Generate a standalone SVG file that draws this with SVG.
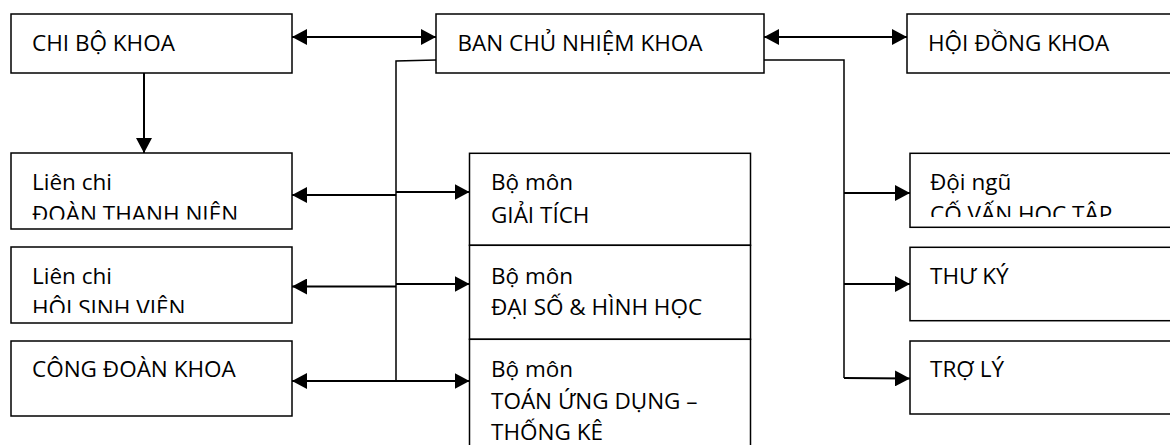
<svg xmlns="http://www.w3.org/2000/svg" width="1170" height="445" viewBox="0 0 1170 445">
<defs>
<style>
.box{fill:#fff;stroke:#000;stroke-width:1.5}
.t{font-family:"Open Sans","Liberation Sans",sans-serif;font-size:22.5px;fill:#000}
.arr{fill:none;stroke:#000;stroke-width:2}
.trunk{fill:none;stroke:#000;stroke-width:1.5}
</style>
<marker id="ah" viewBox="0 0 15 16" refX="15" refY="8" markerWidth="15" markerHeight="16" markerUnits="userSpaceOnUse" orient="auto-start-reverse">
<path d="M0,0 L15,8 L0,16 Z" fill="#000"/>
</marker>
<clipPath id="c1"><rect x="11" y="153" width="281" height="66.5"/></clipPath>
<clipPath id="c2"><rect x="11" y="247" width="281" height="66"/></clipPath>
<clipPath id="c3"><rect x="910" y="153" width="260" height="64"/></clipPath>
</defs>

<g id="connectors">
<line class="arr" x1="292" y1="37" x2="436" y2="37" marker-start="url(#ah)" marker-end="url(#ah)"/>
<line class="arr" x1="764" y1="37" x2="907" y2="37" marker-start="url(#ah)" marker-end="url(#ah)"/>
<line class="arr" x1="144" y1="73" x2="144" y2="153" marker-end="url(#ah)"/>
<polyline class="trunk" points="436,60 396,61 396,380"/>
<line class="arr" x1="396" y1="195" x2="292" y2="195" marker-end="url(#ah)"/>
<line class="arr" x1="396" y1="192" x2="469.5" y2="192" marker-end="url(#ah)"/>
<line class="arr" x1="396" y1="286.5" x2="292" y2="286.5" marker-end="url(#ah)"/>
<line class="arr" x1="396" y1="284" x2="469.5" y2="284" marker-end="url(#ah)"/>
<line class="arr" x1="396" y1="381" x2="292" y2="381" marker-end="url(#ah)"/>
<line class="arr" x1="396" y1="381" x2="469.5" y2="381" marker-end="url(#ah)"/>
<polyline class="trunk" points="764,60 844,60 844,378"/>
<line class="arr" x1="844" y1="193" x2="910" y2="193" marker-end="url(#ah)"/>
<line class="arr" x1="844" y1="284" x2="910" y2="284" marker-end="url(#ah)"/>
<line class="arr" x1="844" y1="378" x2="910" y2="378.5" marker-end="url(#ah)"/>
</g>

<g id="chibo"><rect class="box" x="11" y="14" width="281" height="59"/><text class="t" x="32" y="51">CHI BỘ KHOA</text></g>
<g id="bcn"><rect class="box" x="436" y="14" width="328" height="59"/><text class="t" x="457.5" y="51">BAN CHỦ NHIỆM KHOA</text></g>
<g id="hoidong"><rect class="box" x="907" y="14" width="300" height="59"/><text class="t" x="928" y="51">HỘI ĐỒNG KHOA</text></g>

<g id="doan"><rect class="box" x="11" y="153" width="281" height="76"/><g clip-path="url(#c1)"><text class="t" x="32" y="190">Liên chi</text><text class="t" x="32" y="222">ĐOÀN THANH NIÊN</text></g></g>
<g id="hoisv"><rect class="box" x="11" y="247" width="281" height="76"/><g clip-path="url(#c2)"><text class="t" x="32" y="284">Liên chi</text><text class="t" x="32" y="316">HỘI SINH VIÊN</text></g></g>
<g id="congdoan"><rect class="box" x="11" y="341" width="281" height="75"/><text class="t" x="32" y="377">CÔNG ĐOÀN KHOA</text></g>

<g id="bm1"><rect class="box" x="469.5" y="153.3" width="281" height="92"/><text class="t" x="491" y="190">Bộ môn</text><text class="t" x="491" y="222.5">GIẢI TÍCH</text></g>
<g id="bm2"><rect class="box" x="469.5" y="245.3" width="281" height="94"/><text class="t" x="491" y="283.5">Bộ môn</text><text class="t" x="491" y="315">ĐẠI SỐ &amp; HÌNH HỌC</text></g>
<g id="bm3"><rect class="box" x="469.5" y="339.3" width="281" height="130"/><text class="t" x="491" y="377">Bộ môn</text><text class="t" x="491" y="408.5">TOÁN ỨNG DỤNG –</text><text class="t" x="491" y="439.5">THỐNG KÊ</text></g>

<g id="covan"><rect class="box" x="910" y="153.3" width="300" height="74"/><g clip-path="url(#c3)"><text class="t" x="930" y="190">Đội ngũ</text><text class="t" x="930" y="222">CỐ VẤN HỌC TẬP</text></g></g>
<g id="thuky"><rect class="box" x="910" y="247.3" width="300" height="73.4"/><text class="t" x="930" y="284">THƯ KÝ</text></g>
<g id="troly"><rect class="box" x="910" y="341" width="300" height="73"/><text class="t" x="930" y="377">TRỢ LÝ</text></g>
</svg>
